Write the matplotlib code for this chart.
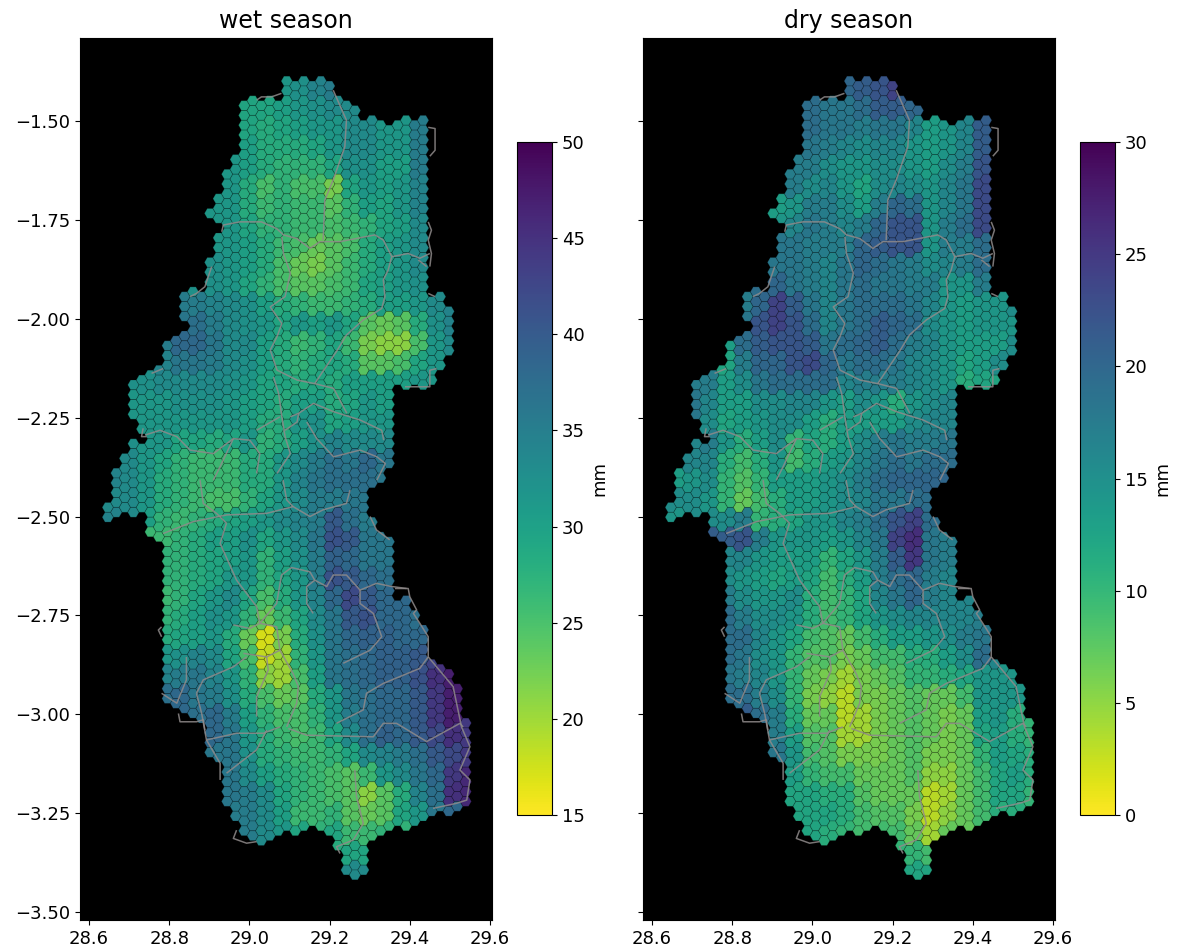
import numpy as np
import matplotlib
matplotlib.use("Agg")
import matplotlib.pyplot as plt
from matplotlib.collections import PolyCollection, LineCollection
from matplotlib.cm import ScalarMappable
from matplotlib.colors import Normalize

titles = ["wet season", "dry season"]
ranges = [(15, 50), (0, 30)]
x_ticks = [28.6, 28.8, 29.0, 29.2, 29.4, 29.6]
y_ticks = [-1.5, -1.75, -2.0, -2.25, -2.5, -2.75, -3.0, -3.25, -3.5]

# hex rows occupied by every hex column, west to east
col_spans = [
 [(43,44)],[(40,44)],[(38,43)],[(31,34),(37,44)],[(30,35),(37,43)],[(30,46)],[(29,46)],[(27,63)],[(26,63)],
 [(22,24),(26,64)],[(21,64)],[(22,65)],[(13,13),(18,68)],[(12,14),(16,69)],[(9,73)],[(8,75)],[(2,76)],[(2,77)],
 [(2,77)],[(2,77)],[(2,76)],[(0,76)],[(0,76)],[(0,76)],[(0,75)],[(0,76)],[(0,76)],[(2,78)],[(2,80)],[(3,81)],
 [(4,80)],[(4,41),(45,77)],[(4,40),(46,76)],[(5,39),(47,76)],[(4,30),(53,75)],[(4,31),(53,76)],[(4,30),(54,75)],
 [(4,31),(56,75)],[(22,30),(59,74)],[(22,29),(60,74)],[(23,27),(60,74)],[(62,74)],[(65,73)],
]

# mm, on a block grid of two hex columns by two hex rows (0 = outside the basin)
wet = [
 [0,0,0,0,0,0,0,0,0,0,31,32,34,35,0,0,0,0,0,0,0,0],
 [0,0,0,0,0,0,0,0,29,29,30,31,32,33,33,0,0,0,0,0,0,0],
 [0,0,0,0,0,0,0,0,29,28,29,30,31,31,33,33,31,31,35,0,0,0],
 [0,0,0,0,0,0,0,0,30,28,28,28,29,31,33,33,31,31,35,0,0,0],
 [0,0,0,0,0,0,0,31,30,28,27,27,27,29,32,32,30,30,35,0,0,0],
 [0,0,0,0,0,0,31,31,28,25,27,25,25,22,29,31,30,31,34,0,0,0],
 [0,0,0,0,0,0,31,31,28,26,27,26,26,24,27,30,29,31,34,0,0,0],
 [0,0,0,0,0,0,31,31,29,27,27,26,26,25,26,27,29,30,33,0,0,0],
 [0,0,0,0,0,0,31,31,30,28,26,25,23,24,25,28,30,31,33,0,0,0],
 [0,0,0,0,0,0,32,31,30,28,25,23,22,24,26,28,30,31,33,0,0,0],
 [0,0,0,0,0,32,32,31,29,27,25,24,24,25,26,29,30,31,32,0,0,0],
 [0,0,0,0,35,35,34,33,32,30,28,27,26,26,27,28,30,30,31,33,34,0],
 [0,0,0,0,36,37,35,33,32,31,29,31,30,31,29,24,23,24,28,32,34,0],
 [0,0,0,35,38,38,36,33,33,30,28,26,27,29,26,22,21,21,25,31,33,0],
 [0,0,0,34,36,36,35,33,32,30,28,27,28,29,28,24,24,25,29,31,33,0],
 [0,0,32,33,33,33,33,32,31,29,29,28,29,28,30,30,30,30,31,0,0,0],
 [0,31,31,31,32,32,32,31,30,29,28,30,30,28,29,31,30,0,0,0,0,0],
 [0,31,31,31,31,31,31,31,30,28,28,31,32,29,30,31,31,0,0,0,0,0],
 [0,32,31,31,29,29,28,29,31,27,28,30,32,34,33,33,33,0,0,0,0,0],
 [0,33,31,29,27,26,26,26,28,28,31,33,35,37,36,38,36,0,0,0,0,0],
 [34,33,31,28,27,26,26,26,28,28,31,34,36,37,37,37,36,0,0,0,0,0],
 [33,33,31,28,27,26,25,25,27,29,31,33,35,35,36,36,0,0,0,0,0,0],
 [34,33,30,27,26,27,28,29,30,31,33,34,35,40,37,35,0,0,0,0,0,0],
 [0,0,0,26,27,28,30,30,32,29,31,33,36,41,40,36,36,0,0,0,0,0],
 [0,0,0,27,27,28,29,30,31,27,30,32,35,39,38,36,36,0,0,0,0,0],
 [0,0,0,27,27,28,29,31,31,27,29,31,35,41,40,38,37,0,0,0,0,0],
 [0,0,0,26,27,29,31,33,29,25,28,31,34,38,42,40,38,38,0,0,0,0],
 [0,0,0,27,28,30,32,31,27,23,26,29,33,36,40,41,38,38,37,0,0,0],
 [0,0,0,28,29,30,31,28,23,17,22,28,32,36,38,39,39,38,38,0,0,0],
 [0,0,0,31,32,34,33,29,25,18,20,27,31,36,37,38,39,39,40,43,0,0],
 [0,0,0,34,35,36,34,31,27,21,20,25,30,36,37,38,39,39,41,45,47,0],
 [0,0,0,37,38,36,35,32,28,25,23,24,28,31,36,37,38,38,40,44,47,0],
 [0,0,0,0,38,37,38,35,30,27,25,25,27,31,35,37,38,38,40,44,47,44],
 [0,0,0,0,0,0,38,36,31,28,26,25,26,29,33,37,39,38,40,42,45,44],
 [0,0,0,0,0,0,36,36,32,28,27,26,26,27,29,33,34,35,37,40,42,44],
 [0,0,0,0,0,0,0,36,33,30,28,27,26,25,24,26,31,33,36,38,44,46],
 [0,0,0,0,0,0,0,36,35,33,29,27,26,25,24,21,24,28,34,37,45,46],
 [0,0,0,0,0,0,0,35,35,33,30,26,26,27,24,23,24,29,31,36,38,0],
 [0,0,0,0,0,0,0,0,35,33,31,29,27,29,26,26,27,0,0,0,0,0],
 [0,0,0,0,0,0,0,0,0,0,0,0,0,28,29,29,0,0,0,0,0,0],
 [0,0,0,0,0,0,0,0,0,0,0,0,0,0,33,33,0,0,0,0,0,0],
]
dry = [
 [0,0,0,0,0,0,0,0,0,0,20,21,22,24,0,0,0,0,0,0,0,0],
 [0,0,0,0,0,0,0,0,19,18,18,19,21,21,20,0,0,0,0,0,0,0],
 [0,0,0,0,0,0,0,0,19,18,18,17,18,18,16,13,14,16,21,0,0,0],
 [0,0,0,0,0,0,0,0,18,17,16,15,16,16,14,13,14,16,21,0,0,0],
 [0,0,0,0,0,0,0,17,17,15,14,14,15,15,14,13,15,17,22,0,0,0],
 [0,0,0,0,0,0,17,17,15,16,14,12,15,16,15,14,16,18,23,0,0,0],
 [0,0,0,0,0,0,13,14,17,17,15,13,17,20,19,14,16,18,23,0,0,0],
 [0,0,0,0,0,0,14,16,18,17,16,17,20,22,22,14,17,19,23,0,0,0],
 [0,0,0,0,0,0,18,18,17,17,17,20,21,22,22,14,17,17,19,0,0,0],
 [0,0,0,0,0,0,18,18,17,16,18,20,19,18,17,15,16,17,19,0,0,0],
 [0,0,0,0,0,19,20,18,17,16,18,19,18,18,17,17,14,14,17,0,0,0],
 [0,0,0,0,17,20,24,21,18,16,18,19,19,19,18,16,14,13,14,14,15,0],
 [0,0,0,0,18,22,24,22,19,16,18,19,21,20,19,15,14,13,14,14,14,0],
 [0,0,0,13,19,21,22,22,21,18,19,20,21,19,17,16,14,13,13,13,15,0],
 [0,0,0,12,17,20,20,22,23,20,18,19,19,18,16,15,14,12,13,15,15,0],
 [0,0,17,13,15,18,19,19,19,19,16,17,17,17,16,15,14,11,12,0,0,0],
 [0,18,16,13,13,15,15,16,16,14,13,15,14,11,14,15,16,0,0,0,0,0],
 [0,18,15,12,13,14,15,15,13,11,13,13,13,13,15,16,16,0,0,0,0,0],
 [0,16,17,14,11,13,15,10,12,11,13,15,17,18,17,17,18,0,0,0,0,0],
 [0,16,16,11,9,11,14,9,11,13,14,16,18,19,18,19,19,0,0,0,0,0],
 [13,14,15,10,8,10,13,13,13,14,15,17,19,20,20,20,20,0,0,0,0,0],
 [15,15,14,10,7,9,11,13,13,14,15,16,18,18,19,19,0,0,0,0,0,0],
 [14,15,15,15,17,10,11,12,14,14,16,17,19,22,24,19,0,0,0,0,0,0],
 [0,0,0,21,22,17,14,14,14,13,14,16,18,24,26,18,17,0,0,0,0,0],
 [0,0,0,16,16,14,13,13,13,10,12,14,17,21,25,18,17,0,0,0,0,0],
 [0,0,0,15,14,13,12,13,12,9,11,13,17,19,20,17,16,0,0,0,0,0],
 [0,0,0,17,15,14,14,15,11,9,10,12,16,18,20,17,16,16,0,0,0,0],
 [0,0,0,19,17,15,15,14,11,9,10,12,14,15,16,16,16,16,17,0,0,0],
 [0,0,0,19,19,16,14,12,9,8,7,9,11,13,13,14,15,17,18,0,0,0],
 [0,0,0,19,18,15,14,10,8,8,6,7,9,9,11,11,13,15,19,16,0,0],
 [0,0,0,18,17,16,14,10,7,6,4,6,7,8,10,10,11,12,14,14,14,0],
 [0,0,0,19,19,17,15,10,6,5,3,6,6,7,8,7,7,9,14,14,14,0],
 [0,0,0,0,21,19,17,11,7,7,3,4,6,7,8,7,6,7,13,14,11,10],
 [0,0,0,0,0,0,17,13,8,8,4,4,6,7,8,7,6,7,12,13,11,10],
 [0,0,0,0,0,0,18,14,9,8,6,6,6,7,8,6,6,7,10,13,12,11],
 [0,0,0,0,0,0,0,13,10,9,9,7,7,7,8,5,5,7,9,12,13,11],
 [0,0,0,0,0,0,0,12,12,11,11,8,7,7,7,3,4,7,9,12,12,10],
 [0,0,0,0,0,0,0,12,12,12,11,9,8,8,6,3,5,7,9,11,11,0],
 [0,0,0,0,0,0,0,0,12,11,10,9,9,9,7,4,7,0,0,0,0,0],
 [0,0,0,0,0,0,0,0,0,0,0,0,0,10,10,9,0,0,0,0,0,0],
 [0,0,0,0,0,0,0,0,0,0,0,0,0,0,12,12,0,0,0,0,0,0],
]

# district borders, (lon, lat)
borders = [
 [(29.018,-1.447),(29.030,-1.439),(29.055,-1.439),(29.080,-1.430)],
 [(29.446,-1.516),(29.463,-1.519),(29.463,-1.574),(29.450,-1.589)],
 [(28.931,-1.780),(28.935,-1.763),(28.976,-1.755),(29.030,-1.755),(29.068,-1.772),(29.085,-1.788),(29.118,-1.797),(29.151,-1.822),(29.176,-1.805),(29.226,-1.805),(29.267,-1.797),(29.313,-1.788),(29.334,-1.801),(29.355,-1.843),(29.346,-1.877),(29.334,-1.902),(29.338,-1.944),(29.330,-1.974),(29.284,-2.003),(29.242,-2.041),(29.217,-2.083),(29.188,-2.126),(29.163,-2.164)],
 [(29.209,-1.422),(29.242,-1.498),(29.238,-1.565),(29.209,-1.649),(29.188,-1.700),(29.184,-1.801)],
 [(29.081,-1.793),(29.085,-1.835),(29.102,-1.885),(29.089,-1.944),(29.052,-1.970),(29.081,-2.012),(29.069,-2.045),(29.052,-2.079),(29.069,-2.130),(29.119,-2.155),(29.163,-2.164),(29.210,-2.176),(29.243,-2.239)],
 [(29.355,-1.843),(29.396,-1.835),(29.425,-1.847),(29.450,-1.835)],
 [(29.421,-1.851),(29.442,-1.868)],
 [(29.446,-1.755),(29.454,-1.776),(29.446,-1.801),(29.454,-1.835),(29.450,-1.868)],
 [(29.446,-1.936),(29.463,-1.944)],
 [(29.388,-2.172),(29.450,-2.172),(29.450,-2.130),(29.467,-2.126)],
 [(28.852,-1.944),(28.868,-1.936),(28.889,-1.919),(28.906,-1.868)],
 [(28.756,-2.138),(28.785,-2.126)],
 [(28.735,-2.277),(28.731,-2.298),(28.744,-2.298)],
 [(29.060,-2.147),(29.073,-2.189),(29.081,-2.248),(29.089,-2.298),(29.102,-2.341),(29.069,-2.391)],
 [(29.102,-2.248),(29.123,-2.239),(29.160,-2.214),(29.210,-2.235),(29.276,-2.256),(29.330,-2.282),(29.335,-2.307)],
 [(29.123,-2.239),(29.119,-2.261),(29.089,-2.282)],
 [(29.143,-2.261),(29.168,-2.303),(29.210,-2.349),(29.276,-2.332),(29.318,-2.349),(29.339,-2.366),(29.318,-2.408)],
 [(28.740,-2.294),(28.777,-2.282),(28.819,-2.298),(28.852,-2.332),(28.910,-2.341),(28.960,-2.303),(29.001,-2.307),(29.026,-2.341),(29.018,-2.391)],
 [(28.960,-2.303),(28.927,-2.374),(28.910,-2.408)],
 [(29.018,-2.282),(29.076,-2.248)],
 [(28.877,-2.408),(28.885,-2.467),(28.918,-2.492),(28.943,-2.517)],
 [(28.785,-2.543),(28.860,-2.513),(28.943,-2.496),(29.043,-2.492),(29.109,-2.475),(29.151,-2.500),(29.184,-2.483),(29.242,-2.467),(29.251,-2.433)],
 [(29.084,-2.408),(29.093,-2.458),(29.109,-2.475)],
 [(28.943,-2.517),(28.927,-2.568),(28.968,-2.661),(29.018,-2.728),(29.026,-2.770)],
 [(29.080,-2.648),(29.105,-2.629),(29.151,-2.640),(29.163,-2.661),(29.143,-2.677),(29.143,-2.720),(29.159,-2.745)],
 [(29.163,-2.661),(29.193,-2.677),(29.209,-2.648),(29.242,-2.648),(29.276,-2.686),(29.317,-2.669),(29.355,-2.677),(29.392,-2.682)],
 [(29.276,-2.686),(29.276,-2.720),(29.309,-2.745),(29.330,-2.804),(29.301,-2.838),(29.234,-2.871)],
 [(29.080,-2.648),(29.068,-2.720),(29.026,-2.770),(29.001,-2.783),(28.960,-2.774)],
 [(29.026,-2.770),(29.068,-2.779),(29.076,-2.838),(29.043,-2.855),(29.047,-2.888),(29.018,-2.956),(29.018,-3.006)],
 [(28.985,-2.846),(29.043,-2.855)],
 [(29.076,-2.838),(29.109,-2.897),(29.122,-2.930),(29.118,-2.972),(29.093,-3.032)],
 [(28.781,-2.947),(28.819,-2.972),(28.843,-2.913),(28.843,-2.855)],
 [(28.868,-2.947),(28.885,-2.913),(28.960,-2.880),(28.993,-2.855)],
 [(28.868,-2.947),(28.881,-2.998),(28.893,-3.065),(28.968,-3.048),(29.035,-3.048),(29.076,-3.032)],
 [(28.893,-3.065),(28.927,-3.124),(28.927,-3.166)],
 [(28.943,-3.149),(29.018,-3.090),(29.043,-3.040)],
 [(29.097,-3.036),(29.143,-3.053),(29.309,-3.057),(29.334,-3.023),(29.367,-3.023),(29.442,-3.069),(29.525,-3.023),(29.533,-3.032)],
 [(29.446,-2.855),(29.508,-2.930),(29.529,-3.032),(29.550,-3.082),(29.525,-3.141),(29.550,-3.166),(29.542,-3.217),(29.517,-3.225),(29.458,-3.238)],
 [(29.446,-2.855),(29.425,-2.884),(29.334,-2.922),(29.292,-2.947),(29.284,-2.989),(29.217,-3.023)],
 [(29.263,-3.141),(29.267,-3.208),(29.284,-3.276),(29.259,-3.318),(29.217,-3.335),(29.226,-3.352)],
 [(28.968,-3.293),(28.960,-3.314),(28.993,-3.326),(29.018,-3.322)],
 [(29.301,-2.500),(29.317,-2.534),(29.350,-2.559)],
 [(29.363,-2.682),(29.396,-2.682),(29.400,-2.703),(29.417,-2.736),(29.409,-2.745),(29.425,-2.770),(29.446,-2.804),(29.446,-2.855)],
 [(28.781,-2.779),(28.773,-2.787),(28.781,-2.804)],
 [(28.823,-2.998),(28.827,-3.019),(28.868,-3.019),(28.885,-3.014),(28.889,-3.040)],
]

W, H = 1181, 948
LON0, DLON = 28.647, 0.02125
LAT0, DLAT = -1.399, 0.02478
R = DLON / 1.5
CMAP = plt.get_cmap("viridis_r")


def block_value(grid, col, row):
    line = grid[row // 2]
    g = col // 2
    if line[g]:
        return line[g]
    filled = [i for i, v in enumerate(line) if v]
    return line[min(filled, key=lambda i: abs(i - g))]


def hex_cells(grid):
    verts, vals = [], []
    for col, spans in enumerate(col_spans):
        for first, last in spans:
            for row in range(first, last + 1):
                x = LON0 + DLON * col
                y = LAT0 - DLAT * (row + (0.5 if col % 2 == 0 else 0))
                h = DLAT / 2
                verts.append([(x - R, y), (x - R / 2, y + h), (x + R / 2, y + h),
                              (x + R, y), (x + R / 2, y - h), (x - R / 2, y - h)])
                vals.append(block_value(grid, col, row))
    return verts, np.array(vals, float)


def box(l, t, r, b):
    return [l / W, 1 - b / H, (r - l) / W, (b - t) / H]


fig = plt.figure(figsize=(W / 100, H / 100), dpi=100)
panels = [(80, 492, 517, 552, wet), (643, 1055, 1080, 1115, dry)]
for i, (l, r, cl, cr, grid) in enumerate(panels):
    ax = fig.add_axes(box(l, 38, r, 920))
    ax.set_facecolor("black")
    norm = Normalize(*ranges[i])
    verts, vals = hex_cells(grid)
    faces = CMAP(norm(vals))
    faces[:, :3] *= 0.97
    pc = PolyCollection(verts, facecolors=faces, edgecolors=(0, 0, 0, 0.22), linewidths=0.6)
    ax.add_collection(pc)
    ax.add_collection(LineCollection(borders, colors="#8f8a8a", linewidths=1.1, alpha=0.85))
    ax.set_xlim(28.5776, 29.605)
    ax.set_ylim(-3.5202, -1.2901)
    ax.set_xticks(x_ticks)
    ax.set_xticklabels([f"{v:.1f}" for v in x_ticks])
    ax.set_yticks(y_ticks)
    if i == 0:
        ax.set_yticklabels([f"\u2212{abs(v):.2f}" for v in y_ticks])
    else:
        ax.set_yticklabels([])
    ax.tick_params(labelsize=13)
    ax.set_title(titles[i], fontsize=17, pad=7)
    cax = fig.add_axes(box(cl, 142, cr, 815))
    cb = fig.colorbar(ScalarMappable(norm=norm, cmap=CMAP), cax=cax)
    cb.set_ticks(np.arange(ranges[i][0], ranges[i][1] + 1, 5))
    cb.ax.tick_params(labelsize=13)
    cb.set_label("mm", fontsize=13)

fig.savefig("out.png", dpi=100)
